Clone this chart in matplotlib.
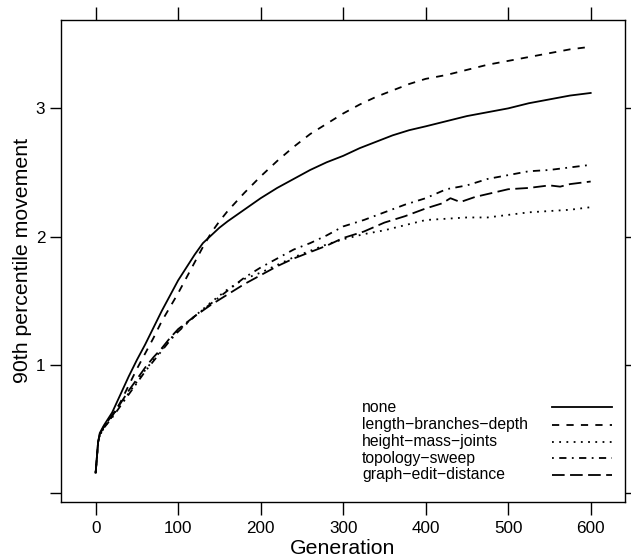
import matplotlib
matplotlib.use("Agg")
import matplotlib.pyplot as plt
from matplotlib.lines import Line2D

plt.rcParams["font.family"] = ["Liberation Sans", "DejaVu Sans"]

# ── data ─────────────────────────────────────────────────────────────────────
gen_a = [0, 3, 5, 10, 20, 30, 40, 50, 60, 70, 80, 90, 100, 110, 120, 130, 140,
         150, 160, 180, 200, 220, 240, 260, 280, 300, 320, 340, 360, 380, 400,
         425, 450, 475, 500, 525, 550, 575, 600]
none = [0.16, 0.40, 0.47, 0.53, 0.63, 0.77, 0.91, 1.04, 1.16, 1.29, 1.42, 1.54,
        1.66, 1.76, 1.86, 1.95, 2.01, 2.07, 2.12, 2.21, 2.30, 2.38, 2.45, 2.52,
        2.58, 2.63, 2.69, 2.74, 2.79, 2.83, 2.86, 2.90, 2.94, 2.97, 3.00, 3.04,
        3.07, 3.10, 3.12]
length_branches = [0.16, 0.40, 0.46, 0.52, 0.60, 0.71, 0.84, 0.97, 1.09, 1.21,
                   1.34, 1.45, 1.56, 1.68, 1.80, 1.92, 2.03, 2.12, 2.20, 2.34,
                   2.47, 2.59, 2.70, 2.80, 2.88, 2.96, 3.03, 3.09, 3.14, 3.19,
                   3.23, 3.26, 3.30, 3.34, 3.37, 3.40, 3.43, 3.46, 3.48]

gen_b = [0, 3, 5, 10, 20, 30, 40, 50, 60, 70, 80, 90, 100, 120, 140, 160, 180,
         200, 220, 240, 260, 280, 300, 325, 350, 375, 400, 425, 450, 475, 500,
         525, 550, 575, 600]
height_mass = [0.16, 0.40, 0.45, 0.51, 0.60, 0.69, 0.78, 0.87, 0.96, 1.04,
               1.12, 1.20, 1.27, 1.38, 1.49, 1.59, 1.67, 1.72, 1.78, 1.84,
               1.89, 1.94, 1.98, 2.02, 2.05, 2.09, 2.13, 2.14, 2.15, 2.15,
               2.17, 2.19, 2.20, 2.21, 2.23]
topology = [0.16, 0.40, 0.45, 0.51, 0.59, 0.68, 0.77, 0.86, 0.95, 1.03, 1.11,
            1.19, 1.26, 1.38, 1.48, 1.58, 1.68, 1.76, 1.83, 1.90, 1.95, 2.01,
            2.08, 2.13, 2.19, 2.25, 2.30, 2.37, 2.40, 2.45, 2.48, 2.51, 2.52,
            2.54, 2.56]

gen_c = [0, 3, 5, 10, 20, 30, 40, 50, 60, 70, 80, 90, 100, 120, 140, 160, 180,
         200, 220, 240, 260, 280, 300, 325, 350, 375, 400, 420, 430, 442, 460,
         480, 500, 525, 550, 563, 575, 600]
graph_edit = [0.16, 0.40, 0.46, 0.52, 0.61, 0.70, 0.80, 0.89, 0.98, 1.06, 1.13,
              1.21, 1.28, 1.38, 1.47, 1.55, 1.63, 1.70, 1.77, 1.83, 1.88, 1.93,
              1.99, 2.04, 2.11, 2.16, 2.22, 2.26, 2.30, 2.27, 2.31, 2.34, 2.37,
              2.38, 2.40, 2.39, 2.41, 2.43]

labels = ["none", "length\u2212branches\u2212depth", "height\u2212mass\u2212joints",
          "topology\u2212sweep", "graph\u2212edit\u2212distance"]
x_ticks = [0, 100, 200, 300, 400, 500, 600]
y_ticks = [0, 1, 2, 3]
y_ticklabels = ["", "1", "2", "3"]

# line styles mimic R lty 1..5
styles = ["-", (0, (4, 4)), (0, (1, 3)), (0, (1, 3, 4, 3)), (0, (7, 3))]
LW = 1.3

fig = plt.figure(figsize=(6.31, 5.59), dpi=100)
ax = fig.add_axes([0.096, 0.102, 0.8945, 0.863])

series = [(gen_a, none), (gen_a, length_branches), (gen_b, height_mass),
          (gen_b, topology), (gen_c, graph_edit)]
for (gx, gy), ls in zip(series, styles):
    ax.plot(gx, gy, color="black", lw=LW, linestyle=ls)

ax.set_xlim(-42.5, 641.6)
ax.set_ylim(-0.067, 3.692)
ax.set_xticks(x_ticks)
ax.set_yticks(y_ticks)
ax.set_yticklabels(y_ticklabels)
for sp in ax.spines.values():
    sp.set_linewidth(1.0)
ax.tick_params(axis="x", which="both", direction="out", length=9.5, width=1.0,
               top=True, labeltop=False, labelsize=12.3, pad=4)
ax.tick_params(axis="y", which="both", direction="out", length=8, width=1.0,
               right=True, labelright=False, labelsize=12.3, pad=3)

ax.set_xlabel("Generation", fontsize=15.3)
ax.set_ylabel("90th percentile movement", fontsize=15.3)
ax.xaxis.set_label_coords(0.5, -0.076)
ax.yaxis.set_label_coords(-0.05, 0.5)

# ── legend, drawn by hand like lattice's key ─────────────────────────────────
row_y = [0.196, 0.160, 0.125, 0.091, 0.056]
for lab, ls, yy in zip(labels, styles, row_y):
    ax.text(0.534, yy, lab, transform=ax.transAxes, ha="left", va="center",
            fontsize=11.3)
    ax.add_line(Line2D([0.870, 0.977], [yy, yy], transform=ax.transAxes,
                       color="black", lw=LW, linestyle=ls))

fig.savefig("out.png", dpi=100)
